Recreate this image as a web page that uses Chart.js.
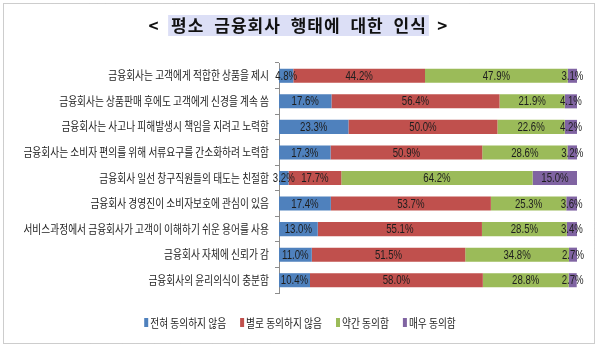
<!DOCTYPE html>
<html><head><meta charset="utf-8">
<script src="https://cdn.jsdelivr.net/npm/chart.js@4"></script>
<style>html,body{margin:0;padding:0;background:#fff}#wrap{width:600px;height:351px;position:relative}canvas{display:block}</style>
</head><body><div id="wrap"><canvas id="c" width="600" height="351"></canvas></div>
<script>
const titleText = '평소 금융회사 행태에 대한 인식';
const categories = [
  '금융회사는 고객에게 적합한 상품을 제시',
  '금융회사는 상품판매 후에도 고객에게 신경을 계속 씀',
  '금융회사는 사고나 피해발생시 책임을 지려고 노력함',
  '금융회사는 소비자 편의를 위해 서류요구를 간소화하려 노력함',
  '금융회사 일선 창구직원들의 태도는 친절함',
  '금융회사 경영진이 소비자보호에 관심이 있음',
  '서비스과정에서 금융회사가 고객이 이해하기 쉬운 용어를 사용',
  '금융회사 자체에 신뢰가 감',
  '금융회사의 윤리의식이 충분함'
];
const seriesNames = ['전혀 동의하지 않음', '별로 동의하지 않음', '약간 동의함', '매우 동의함'];
const stronglyDisagree = [4.8, 17.6, 23.3, 17.3, 3.2, 17.4, 13.0, 11.0, 10.4];
const disagree = [44.2, 56.4, 50.0, 50.9, 17.7, 53.7, 55.1, 51.5, 58.0];
const somewhatAgree = [47.9, 21.9, 22.6, 28.6, 64.2, 25.3, 28.5, 34.8, 28.8];
const stronglyAgree = [3.1, 4.1, 4.2, 3.2, 15.0, 3.6, 3.4, 2.7, 2.7];
const seriesColors = ['#4F81BD', '#C0504D', '#9BBB59', '#8064A2'];

const KFONT = "'Noto Sans CJK KR', 'Noto Sans', sans-serif";
const HSCALE = 0.81;

const decorPlugin = {
  id: 'decor',
  beforeDraw(chart) {
    const ctx = chart.ctx;
    ctx.save();
    ctx.fillStyle = '#fff';
    ctx.fillRect(0, 0, chart.width, chart.height);
    ctx.restore();
  },
  afterDatasetsDraw(chart) {
    const ctx = chart.ctx;
    ctx.save();
    ctx.fillStyle = '#1e1e1e';
    ctx.font = "13px 'Liberation Sans', Arial, sans-serif";
    ctx.textAlign = 'center';
    ctx.textBaseline = 'middle';
    chart.data.datasets.forEach((ds, di) => {
      const meta = chart.getDatasetMeta(di);
      meta.data.forEach((el, i) => {
        const cx = (el.x + el.base) / 2;
        ctx.save();
        ctx.translate(cx, el.y + 0.5);
        ctx.scale(0.74, 1);
        ctx.fillText(ds.data[i].toFixed(1) + '%', 0, 0);
        ctx.restore();
      });
    });
    ctx.restore();
  },
  afterDraw(chart) {
    const ctx = chart.ctx;
    const ys = chart.scales.y;
    // category labels
    ctx.save();
    ctx.fillStyle = '#222';
    ctx.font = '12px ' + KFONT;
    ctx.textAlign = 'right';
    ctx.textBaseline = 'middle';
    chart.data.labels.forEach((lab, i) => {
      const y = ys.getPixelForValue(i);
      ctx.save();
      ctx.translate(269, y);
      ctx.scale(HSCALE, 1);
      ctx.fillText(lab, 0, 0);
      ctx.restore();
    });
    ctx.restore();

    // legend
    ctx.save();
    ctx.font = '12px ' + KFONT;
    ctx.textBaseline = 'middle';
    const boxW = 4, gapBT = 2, gapItem = 14;
    const widths = chart.data.datasets.map(d => ctx.measureText(d.label).width * HSCALE);
    let total = widths.reduce((a, b) => a + b, 0) + widths.length * (boxW + gapBT) + gapItem * (widths.length - 1);
    let x = 300 - total / 2;
    const ly = 323;
    chart.data.datasets.forEach((d, i) => {
      ctx.fillStyle = d.backgroundColor;
      ctx.fillRect(x, ly - 5, boxW, 9);
      x += boxW + gapBT;
      ctx.save();
      ctx.translate(x, ly);
      ctx.scale(HSCALE, 1);
      ctx.fillStyle = '#222';
      ctx.textAlign = 'left';
      ctx.fillText(d.label, 0, 0);
      ctx.restore();
      x += widths[i] + gapItem;
    });
    ctx.restore();

    // title
    ctx.save();
    ctx.font = 'bold 17px ' + KFONT;
    ctx.letterSpacing = '1px';
    ctx.wordSpacing = '5px';
    ctx.textBaseline = 'middle';
    ctx.textAlign = 'left';
    const pw = ctx.measureText(titleText).width;
    const px = 299 - pw / 2;
    ctx.fillStyle = '#dcdff6';
    ctx.fillRect(px - 3, 15, pw + 5, 21);
    ctx.fillStyle = '#111';
    ctx.fillText(titleText, px, 26);
    ctx.textAlign = 'center';
    ctx.fillText('<', px - 17, 26);
    ctx.fillText('>', px + pw + 16, 26);
    ctx.restore();

    // dotted frame
    ctx.save();
    ctx.strokeStyle = '#9a9a9a';
    ctx.lineWidth = 1;
    ctx.setLineDash([1, 1]);
    ctx.strokeRect(3.5, 3.5, 591, 340);
    ctx.restore();
  }
};

new Chart(document.getElementById('c'), {
  type: 'bar',
  data: {
    labels: categories,
    datasets: [
      { label: seriesNames[0], data: stronglyDisagree, backgroundColor: seriesColors[0] },
      { label: seriesNames[1], data: disagree, backgroundColor: seriesColors[1] },
      { label: seriesNames[2], data: somewhatAgree, backgroundColor: seriesColors[2] },
      { label: seriesNames[3], data: stronglyAgree, backgroundColor: seriesColors[3] }
    ]
  },
  options: {
    indexAxis: 'y',
    responsive: false,
    animation: false,
    devicePixelRatio: 1,
    layout: { padding: { left: 0, top: 63, right: 23, bottom: 58 } },
    datasets: { bar: { categoryPercentage: 1, barPercentage: 0.55, borderWidth: 0 } },
    plugins: { legend: { display: false }, title: { display: false }, tooltip: { enabled: false } },
    scales: {
      x: { stacked: true, min: 0, max: 100, display: false },
      y: {
        stacked: true,
        ticks: { display: false },
        grid: { drawOnChartArea: false, drawTicks: true, tickLength: 4, color: '#8c8c8c', offset: true },
        border: { color: '#8c8c8c' },
        afterFit(s) { s.width = 279; }
      }
    }
  },
  plugins: [decorPlugin]
});
</script>
</body></html>
